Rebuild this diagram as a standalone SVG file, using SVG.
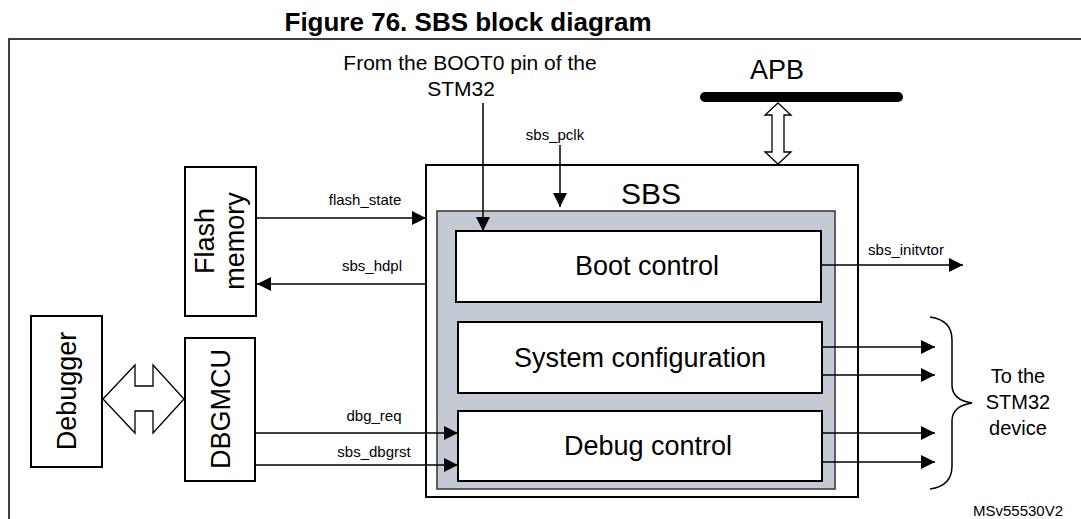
<svg xmlns="http://www.w3.org/2000/svg" width="1081" height="519" viewBox="0 0 1081 519">
<style>
text{font-family:"Liberation Sans",Arial,sans-serif;fill:#000}
.box{fill:#fff;stroke:#000;stroke-width:2}
.ln{stroke:#000;stroke-width:1.5;fill:none}
.big{font-size:27px;text-anchor:middle}
.sig{font-size:15px;text-anchor:middle}
.hol{fill:#fff;stroke:#000;stroke-width:1.3}
</style>
<defs>
<marker id="b" viewBox="0 0 14 14" refX="14" refY="7" markerWidth="14" markerHeight="14" markerUnits="userSpaceOnUse" orient="auto"><path d="M0,0L14,7L0,14z" fill="#000"/></marker>
</defs>
<text x="468" y="31" font-size="26" font-weight="bold" text-anchor="middle">Figure 76. SBS block diagram</text>
<path d="M9,519V39H1081" class="ln" stroke-width="2"/>
<g id="flash"><rect class="box" x="185" y="167" width="71" height="149"/><text class="big" transform="translate(220,241) rotate(-90)"><tspan x="0" y="-6">Flash</tspan><tspan x="0" y="24">memory</tspan></text></g>
<g id="debugger"><rect class="box" x="31" y="316" width="71" height="151"/><text class="big" transform="translate(76,391) rotate(-90)" x="0" y="0">Debugger</text></g>
<g id="dbgmcu"><rect class="box" x="185" y="338" width="70" height="143"/><text class="big" transform="translate(230,409) rotate(-90)" x="0" y="0">DBGMCU</text></g>
<g id="sbs"><rect class="box" x="426" y="165" width="432" height="332"/><text x="651" y="204" font-size="30" text-anchor="middle">SBS</text>
<rect x="437" y="211" width="398" height="278" fill="#c3cad3" stroke="#333" stroke-width="1.5"/></g>
<g id="boot"><rect class="box" x="456" y="231" width="365" height="71"/><text class="big" x="647" y="275">Boot control</text></g>
<g id="syscfg"><rect class="box" x="458" y="322" width="364" height="71"/><text class="big" x="640" y="367">System configuration</text></g>
<g id="dbgctl"><rect class="box" x="458" y="411" width="364" height="70"/><text class="big" x="648" y="455">Debug control</text></g>
<g id="apb"><text x="777" y="79" font-size="27" text-anchor="middle">APB</text><line x1="705" y1="97" x2="898" y2="97" stroke="#000" stroke-width="10" stroke-linecap="round"/></g>
<g id="labels">
<text x="470" y="70" font-size="21" text-anchor="middle">From the BOOT0 pin of the</text>
<text x="461" y="96" font-size="21" text-anchor="middle">STM32</text>
<text x="1018" y="383" font-size="20" text-anchor="middle">To the</text>
<text x="1018" y="409" font-size="20" text-anchor="middle">STM32</text>
<text x="1018" y="435" font-size="20" text-anchor="middle">device</text>
<text x="973" y="516" font-size="15">MSv55530V2</text>
</g>
<g id="connectors">
<line class="ln" x1="256" y1="218" x2="426" y2="218" marker-end="url(#b)"/><text class="sig" x="365" y="205">flash_state</text>
<line class="ln" x1="426" y1="284" x2="257" y2="284" marker-end="url(#b)"/><text class="sig" x="372" y="271">sbs_hdpl</text>
<line class="ln" x1="255" y1="433" x2="458" y2="433" marker-end="url(#b)"/><text class="sig" x="374" y="421">dbg_req</text>
<line class="ln" x1="255" y1="465" x2="458" y2="465" marker-end="url(#b)"/><text class="sig" x="374" y="457">sbs_dbgrst</text>
<line class="ln" x1="483" y1="103" x2="483" y2="231" marker-end="url(#b)"/>
<line class="ln" x1="560" y1="145" x2="560" y2="207" marker-end="url(#b)"/><text class="sig" x="555" y="140">sbs_pclk</text>
<line class="ln" x1="821" y1="265" x2="963" y2="265" marker-end="url(#b)"/><text class="sig" x="906" y="255">sbs_initvtor</text>
<line class="ln" x1="822" y1="347" x2="935" y2="347" marker-end="url(#b)"/>
<line class="ln" x1="822" y1="375" x2="935" y2="375" marker-end="url(#b)"/>
<line class="ln" x1="822" y1="433" x2="935" y2="433" marker-end="url(#b)"/>
<line class="ln" x1="822" y1="462" x2="935" y2="462" marker-end="url(#b)"/>
<path class="hol" d="M103,399L135,365V386H153V365L184,399L153,433V411H135V433Z"/>
<path class="hol" d="M778,103L791,115H784V152H791L778,164L765,152H772V115H765Z"/>
<path class="ln" stroke-width="1" d="M930,317Q952,320 952,340V385Q952,400 972,403Q952,406 952,421V466Q952,486 930,489"/>
</g>
</svg>
